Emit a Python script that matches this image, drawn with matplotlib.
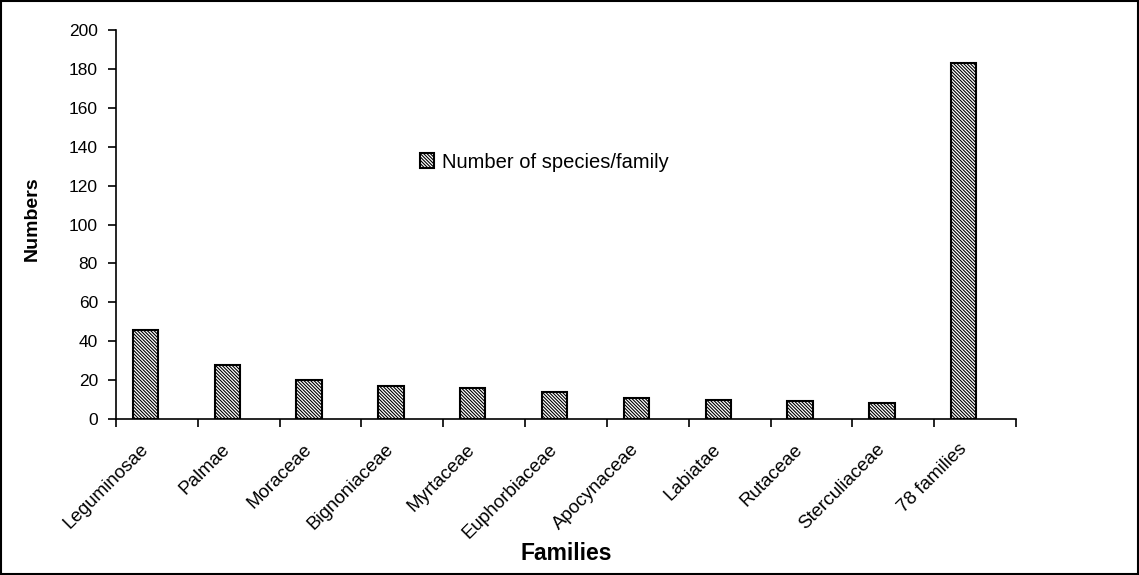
import numpy as np
import matplotlib
matplotlib.use("Agg")
import matplotlib.pyplot as plt
from matplotlib.patches import Rectangle

plt.rcParams['font.family'] = ['Liberation Sans', 'DejaVu Sans']
plt.rcParams['hatch.linewidth'] = 0.8

families = ["Leguminosae", "Palmae", "Moraceae", "Bignoniaceae", "Myrtaceae",
            "Euphorbiaceae", "Apocynaceae", "Labiatae", "Rutaceae",
            "Sterculiaceae", "78 families"]
species = [46, 28, 20, 17, 16, 14, 11, 10, 9, 8, 183]

fig = plt.figure(figsize=(11.39, 5.75), dpi=100)
ax = fig.add_axes([0.1018, 0.2713, 0.7903, 0.6765])

x = np.arange(len(families))
pos = x - 0.14  # bars sit left of the category centre
ax.bar(pos, species, width=0.31, color="white", edgecolor="black", linewidth=1.5,
       hatch="\\" * 10, label="Number of species/family")

ax.set_xlim(-0.5, len(families) - 0.5)
ax.set_ylim(0, 200)
ax.set_yticks(np.arange(0, 201, 20))
ax.set_xticks(pos)
ax.set_xticklabels(families, rotation=45, ha="right", va="center",
                   rotation_mode="anchor", fontsize=13.5)
ax.set_xticks(np.arange(-0.5, len(families), 1), minor=True)
ax.tick_params(axis="x", which="major", length=0, pad=20)
ax.tick_params(axis="x", which="minor", length=6, width=1.2, direction="out")
ax.tick_params(axis="y", length=6, width=1.2, labelsize=12.5, pad=7)
for s in ["top", "right"]:
    ax.spines[s].set_visible(False)
for s in ["left", "bottom"]:
    ax.spines[s].set_linewidth(1.2)

ax.set_ylabel("Numbers", fontsize=14, fontweight="bold")
ax.yaxis.set_label_coords(-0.084, 0.515)
ax.set_xlabel("Families", fontsize=16.5, fontweight="bold", labelpad=0)

fig.legend(loc="center left", bbox_to_anchor=(420 / 1139, 1 - 162 / 575), frameon=False,
           fontsize=14.5, handlelength=0.7, handleheight=0.7, handletextpad=0.4,
           borderpad=0, borderaxespad=0)

fig.patches.append(Rectangle((0.001, 0.001), 0.998, 0.997, transform=fig.transFigure,
                             fill=False, edgecolor="black", linewidth=1.5))

fig.savefig("out.png", dpi=100)
